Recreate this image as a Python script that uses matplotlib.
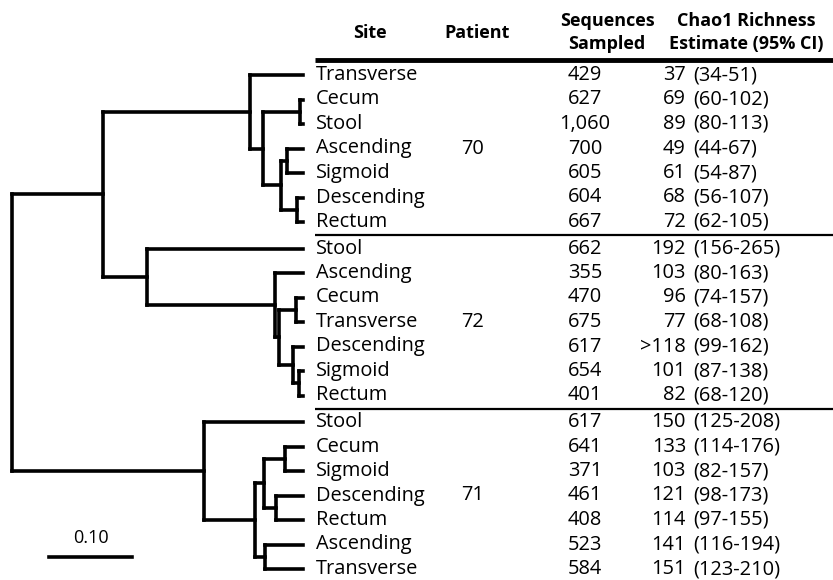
import matplotlib
matplotlib.use('Agg')
import matplotlib.pyplot as plt

plt.rcParams['font.family'] = ['Open Sans', 'DejaVu Sans']

# table data, top to bottom
patients = ['70', '72', '71']
sites = ['Transverse', 'Cecum', 'Stool', 'Ascending', 'Sigmoid', 'Descending', 'Rectum',
         'Stool', 'Ascending', 'Cecum', 'Transverse', 'Descending', 'Sigmoid', 'Rectum',
         'Stool', 'Cecum', 'Sigmoid', 'Descending', 'Rectum', 'Ascending', 'Transverse']
sampled = ['429', '627', '1,060', '700', '605', '604', '667',
           '662', '355', '470', '675', '617', '654', '401',
           '617', '641', '371', '461', '408', '523', '584']
chao1 = ['37', '69', '89', '49', '61', '68', '72',
         '192', '103', '96', '77', '>118', '101', '82',
         '150', '133', '103', '121', '114', '141', '151']
chao1_ci = ['(34-51)', '(60-102)', '(80-113)', '(44-67)', '(54-87)', '(56-107)', '(62-105)',
            '(156-265)', '(80-163)', '(74-157)', '(68-108)', '(99-162)', '(87-138)', '(68-120)',
            '(125-208)', '(114-176)', '(82-157)', '(98-173)', '(97-155)', '(116-194)', '(123-210)']

# UPGMA tree: (node height, left, right), leaves are row numbers
tree70 = (0.064, 0, (0.048, (0.004, 1, 2), (0.027, (0.019, 3, 4), (0.007, 5, 6))))
tree72 = (0.188, 7, (0.034, 8, (0.029, (0.008, 9, 10), (0.012, 11, (0.005, 12, 13)))))
tree71 = (0.119, 14, (0.058, (0.047, (0.022, 15, 16), (0.033, 17, 18)), (0.046, 19, 20)))
tree = (0.351, (0.241, tree70, tree72), tree71)
scale_len = 0.10

# layout (pixels)
W, H = 833, 580
tip_x = 303
px_per_unit = 830
row0, row_h, grp_gap = 75, 24.5, 2.0
lw_tree = 2.6

fig = plt.figure(figsize=(W / 100, H / 100), dpi=100)
ax = fig.add_axes([0, 0, 1, 1])
ax.set_xlim(0, W)
ax.set_ylim(H, 0)
ax.axis('off')


def row_y(i):
    return row0 + i * row_h + (i // 7) * grp_gap


def draw(node):
    # returns (x, y) of the node
    if not isinstance(node, tuple):
        return tip_x, row_y(node)
    h, a, b = node
    x = tip_x - h * px_per_unit
    xa, ya = draw(a)
    xb, yb = draw(b)
    kw = dict(color='black', lw=lw_tree, solid_capstyle='projecting')
    ax.plot([x, xa], [ya, ya], **kw)
    ax.plot([x, xb], [yb, yb], **kw)
    ax.plot([x, x], [ya, yb], **kw)
    return x, (ya + yb) / 2


draw(tree)

# scale bar
sx0 = 49
ax.plot([sx0, sx0 + scale_len * px_per_unit], [557, 557], color='black', lw=lw_tree)
ax.text(sx0 + scale_len * px_per_unit / 2, 538, '%.2f' % scale_len, ha='center', va='center', fontsize=13)

# headers
hfs = 13
ax.text(370, 33, 'Site', ha='center', va='center', fontsize=hfs, fontweight='bold')
ax.text(477, 33, 'Patient', ha='center', va='center', fontsize=hfs, fontweight='bold')
ax.text(607, 21, 'Sequences', ha='center', va='center', fontsize=hfs, fontweight='bold')
ax.text(607, 44, 'Sampled', ha='center', va='center', fontsize=hfs, fontweight='bold')
ax.text(746, 21, 'Chao1 Richness', ha='center', va='center', fontsize=hfs, fontweight='bold')
ax.text(746, 44, 'Estimate (95% CI)', ha='center', va='center', fontsize=hfs, fontweight='bold')
ax.plot([315, W], [60, 60], color='black', lw=3.5, solid_capstyle='butt')

fs = 14.4
for i in range(len(sites)):
    y = row_y(i)
    ax.text(316, y, sites[i], ha='left', va='center', fontsize=fs)
    ax.text(585, y, sampled[i], ha='center', va='center', fontsize=fs)
    ax.text(686, y, chao1[i], ha='right', va='center', fontsize=fs)
    ax.text(693, y, chao1_ci[i], ha='left', va='center', fontsize=fs)

for g in range(len(patients)):
    ax.text(473, row_y(g * 7 + 3), patients[g], ha='center', va='center', fontsize=fs)
    if g > 0:
        ysep = (row_y(g * 7 - 1) + row_y(g * 7)) / 2
        ax.plot([315, W], [ysep, ysep], color='black', lw=1.6, solid_capstyle='butt')

fig.savefig('out.png', dpi=100, facecolor='white')
